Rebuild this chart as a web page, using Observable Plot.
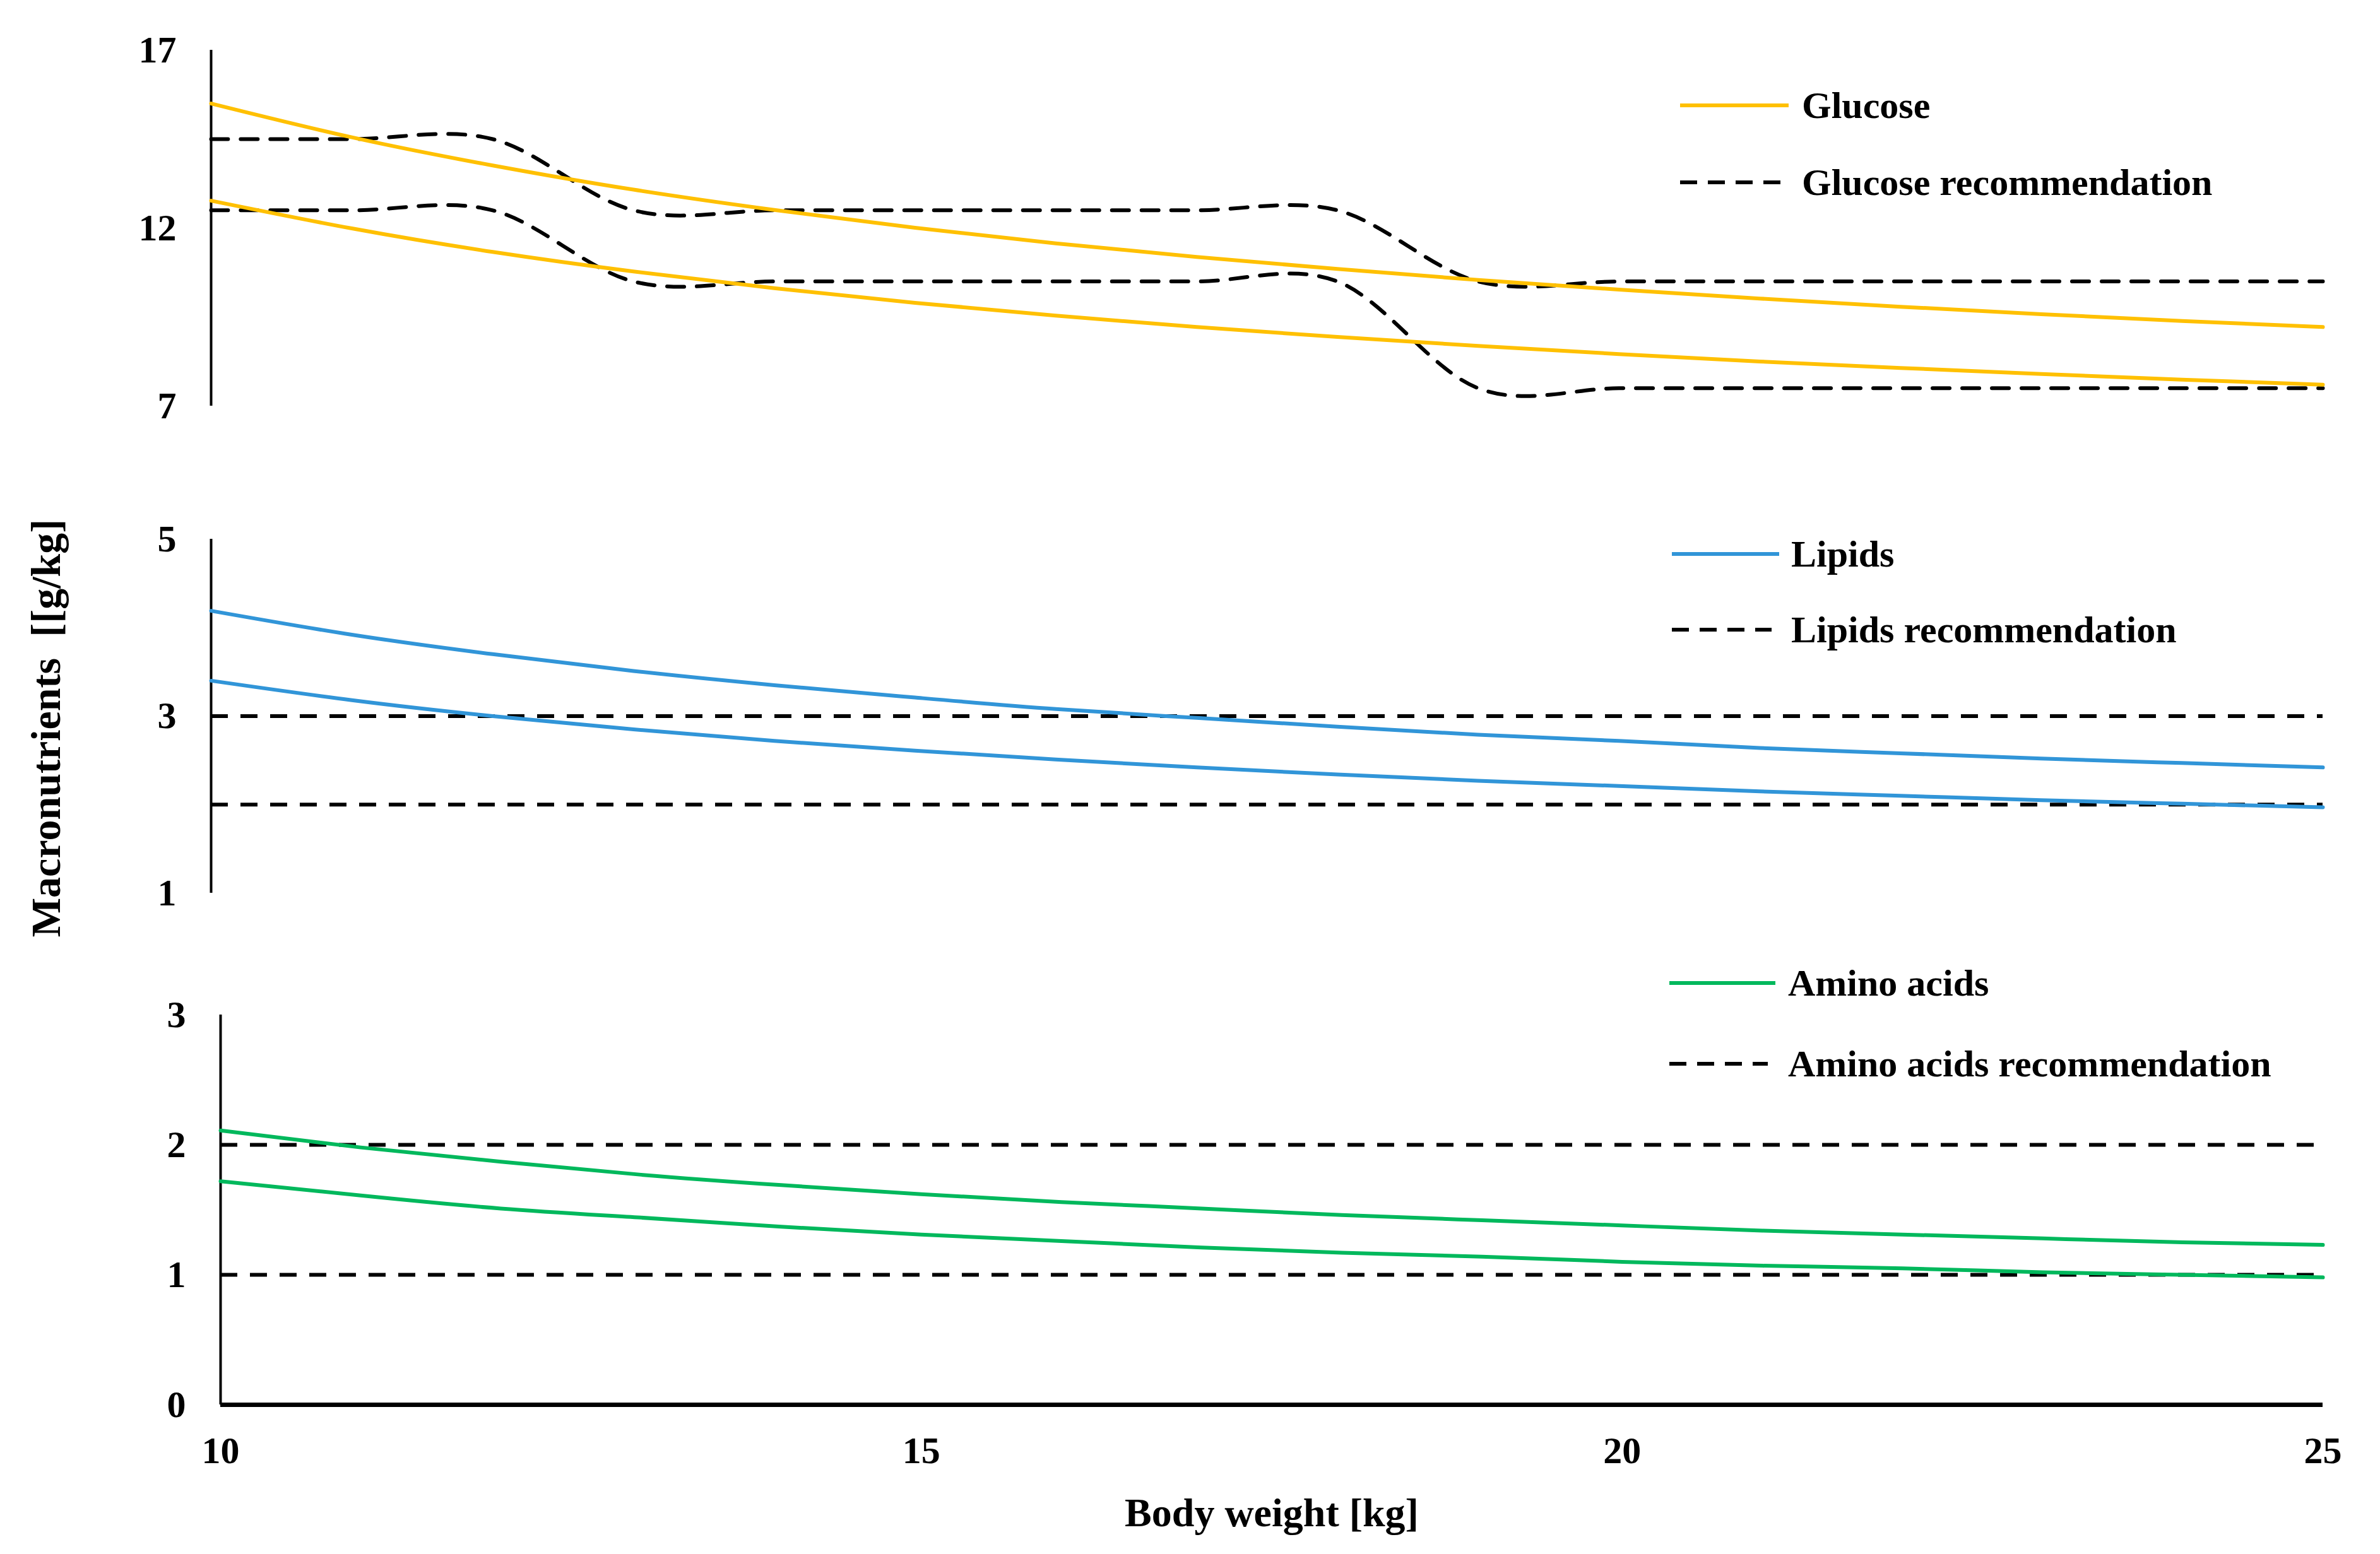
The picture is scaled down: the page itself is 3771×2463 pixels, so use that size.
<!DOCTYPE html>
<html>
<head>
<meta charset="utf-8">
<script src="https://cdn.jsdelivr.net/npm/d3@7"></script>
<script src="https://cdn.jsdelivr.net/npm/@observablehq/plot@0.6"></script>
<style>
  html, body { margin: 0; padding: 0; background: #fff; }
  #wrap { position: relative; width: 3771px; height: 2463px; background: #fff; overflow: hidden;
          font-family: "Liberation Serif", "Times New Roman", serif; font-weight: bold; color: #000; }
  .panel { position: absolute; left: 0; }
  .legend-swatch { position: absolute; transform: translateY(-50%); display: block; }
  .legend-text { position: absolute; transform: translateY(-50%); font-size: 60px; white-space: pre; line-height: 1; }
  #ylabel { position: absolute; left: 73px; top: 1154px; transform: translate(-50%, -50%) rotate(-90deg);
            font-size: 66px; white-space: pre; }
  #xlabel { position: absolute; left: 2015px; top: 2398px; transform: translate(-50%, -50%);
            font-size: 64px; white-space: pre; }
</style>
</head>
<body>
<div id="wrap">
  <div id="p1" class="panel" style="top:0px"></div>
  <div id="p2" class="panel" style="top:780px"></div>
  <div id="p3" class="panel" style="top:1530px"></div>
  <div id="ylabel"></div>
  <div id="xlabel"></div>
</div>
<script>
// ---- Data ----
const weights = [10, 11, 12, 13, 14, 15, 16, 17, 18, 19, 20, 21, 22, 23, 24, 25];

const glucoseHigh = [15.50, 14.55, 13.76, 13.08, 12.51, 12.01, 11.57, 11.19, 10.85, 10.54, 10.27, 10.02, 9.79, 9.58, 9.39, 9.22];
const glucoseLow  = [12.77, 11.99, 11.33, 10.78, 10.31, 9.90, 9.54, 9.22, 8.94, 8.69, 8.46, 8.25, 8.07, 7.90, 7.74, 7.60];
const glucoseRecHigh = [14.5, 14.5, 14.5, 12.5, 12.5, 12.5, 12.5, 12.5, 12.5, 10.5, 10.5, 10.5, 10.5, 10.5, 10.5, 10.5];
const glucoseRecLow  = [12.5, 12.5, 12.5, 10.5, 10.5, 10.5, 10.5, 10.5, 10.5, 7.5, 7.5, 7.5, 7.5, 7.5, 7.5, 7.5];

const lipidsHigh = [4.19, 3.92, 3.70, 3.51, 3.35, 3.21, 3.08, 2.98, 2.88, 2.79, 2.72, 2.64, 2.58, 2.52, 2.47, 2.42];
const lipidsLow  = [3.40, 3.18, 3.00, 2.85, 2.72, 2.61, 2.51, 2.42, 2.34, 2.27, 2.21, 2.15, 2.10, 2.05, 2.01, 1.97];
const lipidsRec  = [3, 2];

const aminoHigh = [2.11, 1.98, 1.87, 1.77, 1.69, 1.62, 1.56, 1.51, 1.46, 1.42, 1.38, 1.34, 1.31, 1.28, 1.25, 1.23];
const aminoLow  = [1.72, 1.61, 1.51, 1.44, 1.37, 1.31, 1.26, 1.21, 1.17, 1.14, 1.10, 1.07, 1.05, 1.02, 1.00, 0.98];
const aminoRec  = [2, 1];

const glucoseTicks = [7, 12, 17];
const lipidsTicks  = [1, 3, 5];
const aminoTicks   = [0, 1, 2, 3];
const weightTicks  = [10, 15, 20, 25];

const seriesNames = ["Glucose", "Glucose recommendation", "Lipids", "Lipids recommendation", "Amino acids", "Amino acids recommendation"];
const colors = { glucose: "#FFC000", lipids: "#3195D8", amino: "#00B85C" };
const yTitle = "Macronutrients  [[g/kg]";
const xTitle = "Body weight [kg]";

// ---- Styles ----
const font = "'Liberation Serif', 'Times New Roman', serif";
const baseStyle = { fontFamily: font, fontWeight: "bold", fontSize: "60px", background: "transparent", overflow: "visible", color: "#000" };
const lineW = 6;
const dash = "27,20";
const fmt = d => String(d);

function colored(arr, color) {
  return Plot.line(arr, { x: weights, y: d => d, stroke: color, strokeWidth: lineW, curve: "natural" });
}
function recCurve(arr) {
  return Plot.line(arr, { x: weights, y: d => d, stroke: "#000", strokeWidth: lineW, strokeDasharray: dash, curve: "cardinal", tension: 0 });
}

// Panel 1: glucose (SVG top at 0)
const p1 = Plot.plot({
  width: 3771, height: 700, marginLeft: 334, marginRight: 91, marginTop: 79, marginBottom: 57,
  style: baseStyle,
  x: { domain: [10, 25], axis: null },
  y: { domain: [7, 17], ticks: glucoseTicks, tickSize: 0, tickPadding: 55, tickFormat: fmt, label: null },
  marks: [
    Plot.ruleX([10], { stroke: "#000", strokeWidth: 4 }),
    recCurve(glucoseRecHigh),
    recCurve(glucoseRecLow),
    colored(glucoseHigh, colors.glucose),
    colored(glucoseLow, colors.glucose)
  ]
});
document.getElementById("p1").appendChild(p1);

// Panel 2: lipids (SVG top at 780)
const p2 = Plot.plot({
  width: 3771, height: 700, marginLeft: 334, marginRight: 91, marginTop: 74, marginBottom: 65,
  style: baseStyle,
  x: { domain: [10, 25], axis: null },
  y: { domain: [1, 5], ticks: lipidsTicks, tickSize: 0, tickPadding: 55, tickFormat: fmt, label: null },
  marks: [
    Plot.ruleX([10], { stroke: "#000", strokeWidth: 4 }),
    Plot.ruleY(lipidsRec, { stroke: "#000", strokeWidth: lineW, strokeDasharray: dash }),
    colored(lipidsHigh, colors.lipids),
    colored(lipidsLow, colors.lipids)
  ]
});
document.getElementById("p2").appendChild(p2);

// Panel 3: amino acids (SVG top at 1530)
const p3 = Plot.plot({
  width: 3771, height: 933, marginLeft: 349, marginRight: 91, marginTop: 78, marginBottom: 237,
  style: baseStyle,
  x: { domain: [10, 25], ticks: weightTicks, tickSize: 0, tickPadding: 50, tickFormat: fmt, label: null },
  y: { domain: [0, 3], ticks: aminoTicks, tickSize: 0, tickPadding: 55, tickFormat: fmt, label: null },
  marks: [
    Plot.ruleX([10], { stroke: "#000", strokeWidth: 4 }),
    Plot.ruleY(aminoRec, { stroke: "#000", strokeWidth: lineW, strokeDasharray: dash }),
    colored(aminoHigh, colors.amino),
    colored(aminoLow, colors.amino),
    Plot.ruleY([0], { stroke: "#000", strokeWidth: 7 })
  ]
});
document.getElementById("p3").appendChild(p3);

// ---- Axis titles ----
document.getElementById("ylabel").textContent = yTitle;
document.getElementById("xlabel").textContent = xTitle;

// ---- Legends (HTML, placed over each panel) ----
const legendDefs = [
  { name: seriesNames[0], color: colors.glucose, dashed: false, left: 2662, textLeft: 2855, top: 167, len: 172 },
  { name: seriesNames[1], color: "#000", dashed: true, left: 2662, textLeft: 2855, top: 289, len: 160 },
  { name: seriesNames[2], color: colors.lipids, dashed: false, left: 2649, textLeft: 2838, top: 878, len: 170 },
  { name: seriesNames[3], color: "#000", dashed: true, left: 2649, textLeft: 2838, top: 998, len: 158 },
  { name: seriesNames[4], color: colors.amino, dashed: false, left: 2645, textLeft: 2833, top: 1558, len: 168 },
  { name: seriesNames[5], color: "#000", dashed: true, left: 2645, textLeft: 2833, top: 1686, len: 156 }
];
const wrap = document.getElementById("wrap");
const ns = "http://www.w3.org/2000/svg";
legendDefs.forEach(d => {
  const svg = document.createElementNS(ns, "svg");
  svg.setAttribute("class", "legend-swatch");
  svg.setAttribute("width", d.len);
  svg.setAttribute("height", 12);
  svg.style.left = d.left + "px";
  svg.style.top = d.top + "px";
  const ln = document.createElementNS(ns, "line");
  ln.setAttribute("x1", 0); ln.setAttribute("x2", d.len);
  ln.setAttribute("y1", 6); ln.setAttribute("y2", 6);
  ln.setAttribute("stroke", d.color);
  ln.setAttribute("stroke-width", lineW);
  if (d.dashed) ln.setAttribute("stroke-dasharray", "27,17");
  svg.appendChild(ln);
  wrap.appendChild(svg);
  const span = document.createElement("div");
  span.className = "legend-text";
  span.style.left = d.textLeft + "px";
  span.style.top = d.top + "px";
  span.textContent = d.name;
  wrap.appendChild(span);
});
</script>
</body>
</html>
